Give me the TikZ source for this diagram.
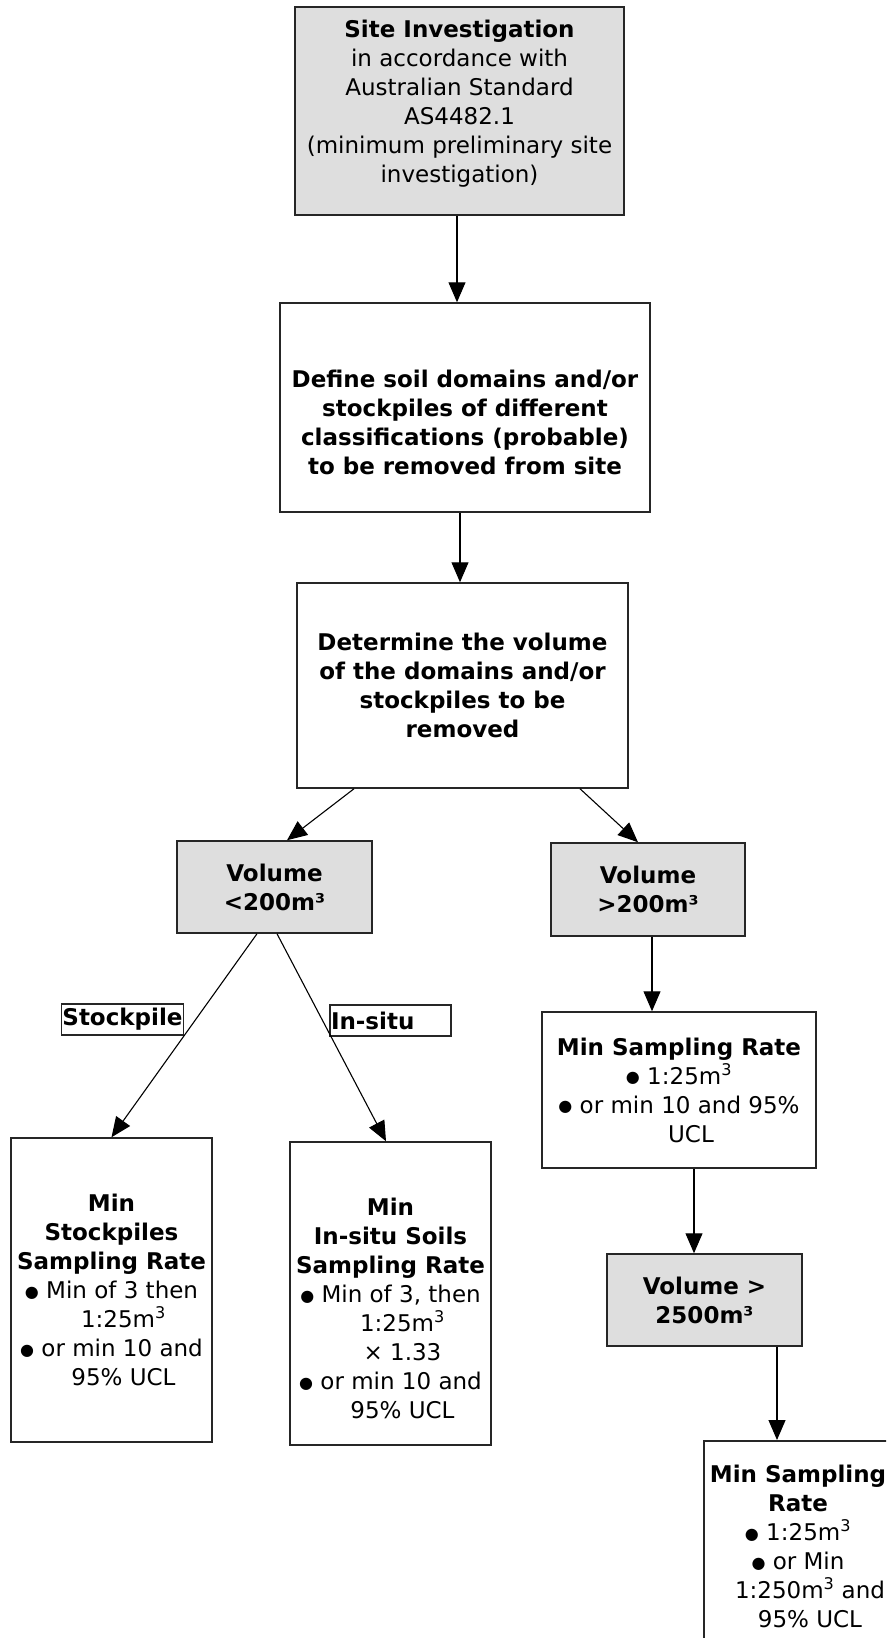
\documentclass[tikz,border=0pt]{standalone}
\usepackage{fontspec}
\setmainfont{DejaVu Sans}
\usepackage{tikz}
\usetikzlibrary{positioning, arrows.meta, calc}
\usepackage{xcolor}

\definecolor{boxgray}{HTML}{DEDEDE}
\newcommand{\bul}{\raisebox{1.5pt}{\fontsize{16}{16}\selectfont ●}}
\newcommand{\contline}{\hspace*{24pt}}
\newcommand{\cube}{\textsuperscript{3}}

\begin{document}
\begin{tikzpicture}[
    x=1pt, y=-1pt,
    every node/.style={font=\fontsize{23}{29}\selectfont, align=center, inner sep=0pt},
    plain box/.style={draw=black!85, line width=1.5pt, fill=white},
    grey box/.style={plain box, fill=boxgray},
    heavy/.style={font=\fontsize{23}{29}\selectfont\bfseries},
    tag/.style={draw=black!85, line width=1.2pt, heavy, minimum width=121pt, minimum height=31pt, inner sep=1pt},
    flow/.style={-{Triangle[length=20pt, width=17pt]}, line width=1.1pt, black}
]
    \useasboundingbox (0,0) rectangle (886,1638);
    \clip (0,0) rectangle (886,1638);

    % Arrange boxes
    \node[grey box, minimum width=329pt, minimum height=208pt] (site) at (459.5,111)
        {\textbf{Site Investigation}\\ in accordance with\\ Australian Standard\\ AS4482.1\\ (minimum preliminary site\\ investigation)\rule[-20pt]{0pt}{0pt}};
    \node[plain box, heavy, minimum width=370pt, minimum height=209pt] (define) at (465,407.5)
        {\rule{0pt}{47pt}Define soil domains and/or\\ stockpiles of different\\ classifications (probable)\\ to be removed from site};
    \node[plain box, heavy, minimum width=331pt, minimum height=205pt] (volume) at (462.5,685.5)
        {Determine the volume\\ of the domains and/or\\ stockpiles to be\\ removed};
    \node[grey box, heavy, minimum width=195pt, minimum height=92pt] (small) at (274.5,887)
        {Volume\\ <200m³};
    \node[grey box, heavy, minimum width=194pt, minimum height=93pt] (large) at (648,889.5)
        {Volume\\ >200m³};
    \node[plain box, minimum width=274pt, minimum height=156pt] (rate) at (679,1090)
        {\textbf{Min Sampling Rate}\\ \bul\ 1:25m\cube\\ \bul\ or min 10 and 95\%\\ \contline UCL};
    \node[grey box, heavy, minimum width=195pt, minimum height=92pt] (huge) at (704.5,1300)
        {Volume >\\ 2500m³};
    \node[plain box, anchor=north, minimum width=188pt, minimum height=212pt] (big) at (798,1440)
        {\textbf{Min Sampling}\\ \textbf{Rate}\\ \bul\ 1:25m\cube\\ \bul\ or Min\\ \contline 1:250m\cube\ and\\ \contline 95\% UCL};
    \node[plain box, minimum width=201pt, minimum height=304pt] (stock) at (111.5,1290)
        {\textbf{Min}\\ \textbf{Stockpiles}\\ \textbf{Sampling Rate}\\ \bul\ Min of 3 then\\ \contline 1:25m\cube\\ \bul\ or min 10 and\\ \contline 95\% UCL};
    \node[plain box, minimum width=201pt, minimum height=303pt] (insitu) at (390.5,1293.5)
        {\rule{0pt}{48pt}\textbf{Min}\\ \textbf{In-situ Soils}\\ \textbf{Sampling Rate}\\ \bul\ Min of 3, then\\ \contline 1:25m\cube\\ \contline × 1.33\\ \bul\ or min 10 and\\ \contline 95\% UCL};

    % Branch tags
    \node[tag] (stocktag) at (122.5,1019.5) {Stockpile};
    \node[tag, text width=119pt, align=left] (situtag) at (390.5,1020.5) {In-situ};

    % Transitions
    \path[flow]
        ([xshift=-2.5pt]site.south) edge ([xshift=-2.5pt]site.south |- define.north)
        ([xshift=-2.5pt]volume.north |- define.south) edge ([xshift=-2.5pt]volume.north)
        ([xshift=-108.5pt]volume.south) edge ([xshift=12.5pt]small.north)
        ([xshift=117.5pt]volume.south) edge ([xshift=-10pt]large.north)
        ([xshift=4pt]large.south) edge ([xshift=4pt]large.south |- rate.north)
        ([xshift=15pt]rate.south) edge ([xshift=15pt]rate.south |- huge.north)
        ([xshift=72.5pt]huge.south) edge ([xshift=72.5pt]huge.south |- big.north)
        ([xshift=-17.5pt]small.south) edge (stock.north)
        ([xshift=2.5pt]small.south) edge ([xshift=-4.5pt]insitu.north);
\end{tikzpicture}
\end{document}
